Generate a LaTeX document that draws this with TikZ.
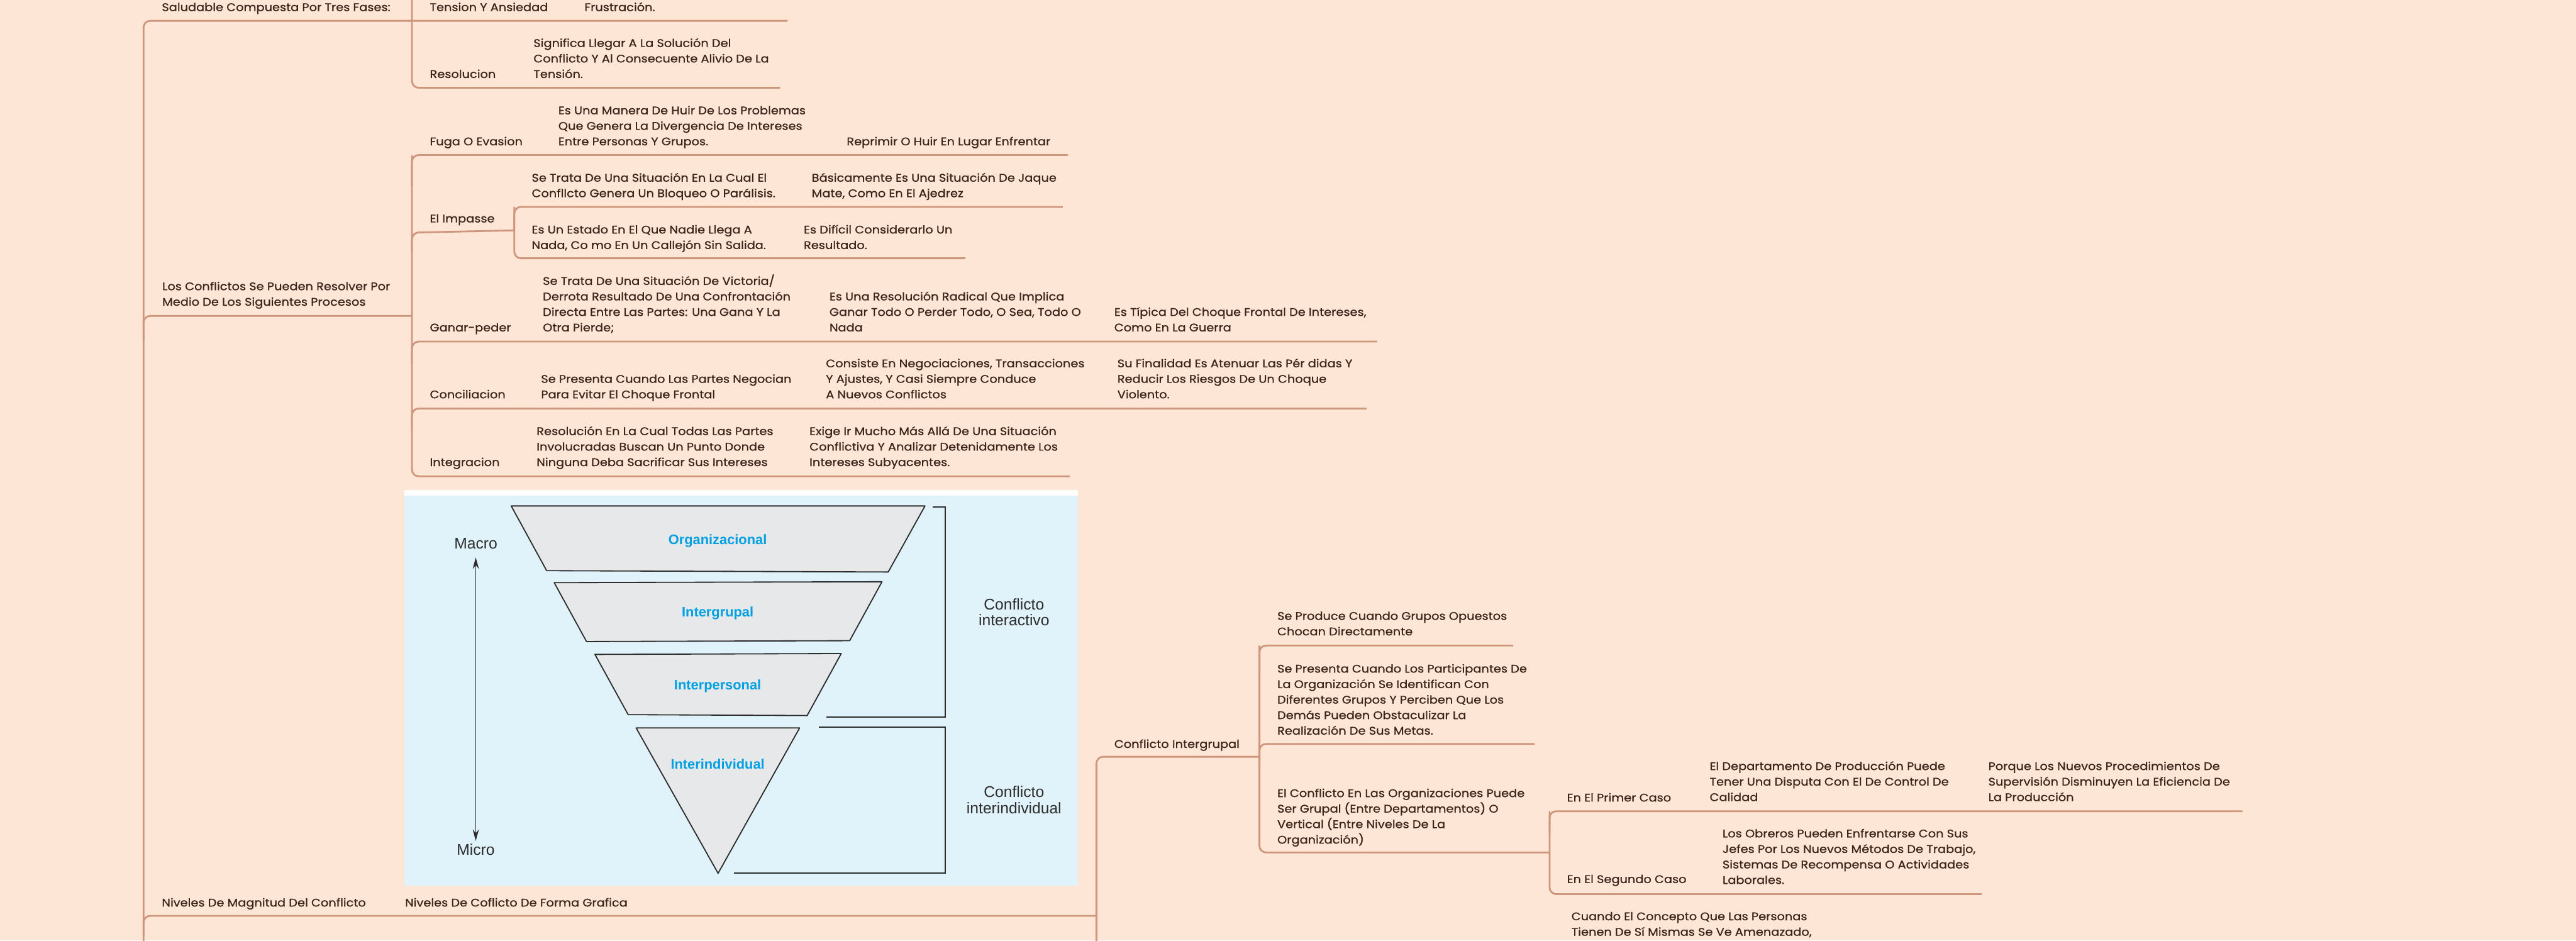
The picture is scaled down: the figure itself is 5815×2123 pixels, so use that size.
\documentclass[tikz,border=0pt]{standalone}
\usepackage{fontspec}
\setmainfont{Poppins}[FakeStretch=1.1,FakeBold=1.0]
\newfontfamily\panelfont{Liberation Sans}
\usetikzlibrary{arrows.meta}
\definecolor{bgc}{RGB}{254,230,214}
\definecolor{linec}{RGB}{206,150,124}
\definecolor{txtc}{RGB}{60,36,26}
\definecolor{panelc}{RGB}{224,243,251}
\definecolor{shapec}{RGB}{231,232,234}
\definecolor{labc}{RGB}{0,160,227}
\definecolor{darkc}{RGB}{45,45,45}
\newcommand\mainsz{\fontsize{12.5}{17.5}\selectfont}
\newcommand\mlines[1]{\vtop{\baselineskip=17.5pt\halign{##\hfil\cr#1\crcr}}}
\begin{document}
\begin{tikzpicture}[x=0.5pt,y=-0.5pt,
  tx/.style={anchor=base west, inner sep=0pt, font=\mainsz, text=txtc},
  br/.style={draw=linec, line width=2pt, rounded corners=7.5pt},
  shp/.style={draw=darkc, fill=shapec, line width=1.3pt, line join=round},
  lab/.style={anchor=base, inner sep=0pt, text=labc, font=\panelfont\bfseries\fontsize{15.5}{18}\selectfont},
  ptx/.style={anchor=base, inner sep=0pt, text=darkc, align=center, font=\panelfont\fontsize{17.5}{18}\selectfont},
  brk/.style={draw=darkc, line width=1.3pt}]
\useasboundingbox (0,0) rectangle (5815,2123);
\fill[bgc] (0,0) rectangle (5815,2123);
\clip (0,0) rectangle (5815,2123);

% ---------- connectors ----------
\coordinate (trT) at (324,47);
\coordinate (trB) at (324,2170);
\coordinate (e1) at (1778,47);
\draw[br] (e1) -- (trT) -- (trB);

\coordinate (vaT) at (930,-40);
\coordinate (vaB) at (930,198);
\coordinate (e2) at (1761,198);
\draw[br] (vaT) -- (vaB) -- (e2);

\coordinate (c3a) at (324,770);
\coordinate (c3b) at (324,713);
\coordinate (c3e) at (930,713);
\draw[br] (c3a) -- (c3b) -- (c3e);

\coordinate (vbT) at (930,350);
\coordinate (vbS) at (930,420);
\coordinate (vbB) at (930,1075);
\coordinate (e4) at (2411,350);
\coordinate (e8) at (2415,1075);
\draw[br] (vbS) -- (vbT) -- (e4);
\draw[br] (vbT) -- (vbB) -- (e8);

\coordinate (c5a) at (930,570);
\coordinate (c5b) at (930,525);
\coordinate (vcT) at (1161,467);
\coordinate (vcS) at (1161,520);
\coordinate (vcB) at (1161,583);
\coordinate (e5a) at (2399,467);
\coordinate (e5b) at (2179,583);
\draw[br] (c5a) -- (c5b) -- (vcS);
\draw[br] (vcS) -- (vcT) -- (e5a);
\draw[br] (vcT) -- (vcB) -- (e5b);

\coordinate (c6a) at (930,820);
\coordinate (c6b) at (930,771);
\coordinate (e6) at (3109,771);
\draw[br] (c6a) -- (c6b) -- (e6);

\coordinate (c7a) at (930,970);
\coordinate (c7b) at (930,922);
\coordinate (e7) at (3085,922);
\draw[br] (c7a) -- (c7b) -- (e7);

\coordinate (c9a) at (324,2110);
\coordinate (c9b) at (324,2067);
\coordinate (vdX) at (2475,2067);
\draw[br] (c9a) -- (c9b) -- (vdX);

\coordinate (vdB) at (2475,2170);
\coordinate (vdT) at (2475,1708);
\coordinate (veM) at (2843,1708);
\draw[br] (vdB) -- (vdT) -- (veM);

\coordinate (veT) at (2843,1457);
\coordinate (veS) at (2843,1520);
\coordinate (veB) at (2843,1924);
\coordinate (e10) at (3416,1457);
\draw[br] (veS) -- (veT) -- (e10);
\coordinate (c11a) at (2843,1725);
\coordinate (c11b) at (2843,1679);
\coordinate (e11) at (3464,1679);
\draw[br] (c11a) -- (c11b) -- (e11);
\coordinate (vfM) at (3498,1924);
\draw[br] (veT) -- (veB) -- (vfM);

\coordinate (vfT) at (3498,1831);
\coordinate (vfS) at (3498,1880);
\coordinate (vfB) at (3498,2018);
\coordinate (e13) at (5062,1831);
\coordinate (e14) at (4473,2018);
\draw[br] (vfS) -- (vfT) -- (e13);
\draw[br] (vfT) -- (vfB) -- (e14);

% ---------- top texts ----------
\node[tx] (t1) at (365,25) {Saludable Compuesta Por Tres Fases:};
\node[tx] (t2) at (970,25) {Tension Y Ansiedad};
\node[tx] (t3) at (1319,25) {Frustración.};
\node[tx] (t4) at (970,176) {Resolucion};
\node[tx] (t5) at (1204,106) {\mlines{Significa Llegar A La Solución Del\cr Conflicto Y Al Consecuente Alivio De La\cr Tensión.}};

% ---------- processes ----------
\node[tx] (p0) at (366,655) {\mlines{Los Conflictos Se Pueden Resolver Por\cr Medio De Los Siguientes Procesos}};
\node[tx] (p1) at (970,328) {Fuga O Evasion};
\node[tx] (p1a) at (1260,258) {\mlines{Es Una Manera De Huir De Los Problemas\cr Que Genera La Divergencia De Intereses\cr Entre Personas Y Grupos.}};
\node[tx] (p1b) at (1911,328) {Reprimir O Huir En Lugar Enfrentar};
\node[tx] (p2) at (970,502) {El Impasse};
\node[tx] (p2a) at (1200,410) {\mlines{Se Trata De Una Situación En La Cual El\cr Confllcto Genera Un Bloqueo O Parálisis.}};
\node[tx] (p2b) at (1832,410) {\mlines{Básicamente Es Una Situación De Jaque\cr Mate, Como En El Ajedrez}};
\node[tx] (p2c) at (1200,527) {\mlines{Es Un Estado En El Que Nadie Llega A\cr Nada, Co mo En Un Callejón Sin Salida.}};
\node[tx] (p2d) at (1814,527) {\mlines{Es Difícil Considerarlo Un\cr Resultado.}};
\node[tx] (p3) at (970,748) {Ganar-peder};
\node[tx] (p3a) at (1225,643) {\mlines{Se Trata De Una Situación De Victoria/\cr Derrota Resultado De Una Confrontación\cr Directa Entre Las Partes: Una Gana Y La\cr Otra Pierde;}};
\node[tx] (p3b) at (1872,678) {\mlines{Es Una Resolución Radical Que Implica\cr Ganar Todo O Perder Todo, O Sea, Todo O\cr Nada}};
\node[tx] (p3c) at (2515,713) {\mlines{Es Típica Del Choque Frontal De Intereses,\cr Como En La Guerra}};
\node[tx] (p4) at (970,899) {Conciliacion};
\node[tx] (p4a) at (1221,864) {\mlines{Se Presenta Cuando Las Partes Negocian\cr Para Evitar El Choque Frontal}};
\node[tx] (p4b) at (1864,829) {\mlines{Consiste En Negociaciones, Transacciones\cr Y Ajustes, Y Casi Siempre Conduce\cr A Nuevos Conflictos}};
\node[tx] (p4c) at (2522,829) {\mlines{Su Finalidad Es Atenuar Las Pér didas Y\cr Reducir Los Riesgos De Un Choque\cr Violento.}};
\node[tx] (p5) at (970,1052) {Integracion};
\node[tx] (p5a) at (1211,982) {\mlines{Resolución En La Cual Todas Las Partes\cr Involucradas Buscan Un Punto Donde\cr Ninguna Deba Sacrificar Sus Intereses}};
\node[tx] (p5b) at (1827,982) {\mlines{Exige Ir Mucho Más Allá De Una Situación\cr Conflictiva Y Analizar Detenidamente Los\cr Intereses Subyacentes.}};

% ---------- panel ----------
\fill[white] (913,1106) rectangle (2433,1118);
\fill[panelc] (913,1118) rectangle (2433,1999);
\draw[shp] (1154,1142) -- (2088,1142) -- (2005,1291) -- (1234,1288) -- cycle;
\draw[shp] (1251,1315) -- (1991,1313) -- (1918,1446) -- (1324,1448) -- cycle;
\draw[shp] (1343,1477) -- (1899,1475) -- (1822,1615) -- (1418,1613) -- cycle;
\draw[shp] (1436,1643) -- (1805,1643) -- (1621,1971) -- cycle;
\node[lab] (g1) at (1620,1229) {Organizacional};
\node[lab] (g2) at (1620,1392) {Intergrupal};
\node[lab] (g3) at (1620,1557) {Interpersonal};
\node[lab] (g4) at (1620,1736) {Interindividual};
\draw[brk] (2105,1144) -- (2134,1144) -- (2134,1619) -- (1866,1619);
\draw[brk] (1848,1641) -- (2134,1641) -- (2134,1970) -- (1657,1970);
\node[ptx] (k1) at (2289,1412) {Conflicto\\interactivo};
\node[ptx] (k2) at (2289,1836) {Conflicto\\interindividual};
\node[ptx] (mac) at (1074,1239) {Macro};
\node[ptx] (mic) at (1074,1930) {Micro};
\coordinate (arT) at (1074,1258);
\coordinate (arB) at (1074,1898);
\draw[darkc, line width=1pt, {Stealth[length=13pt,width=7pt]}-{Stealth[length=13pt,width=7pt]}] (arT) -- (arB);

% ---------- bottom texts ----------
\node[tx] (b1) at (365,2046) {Niveles De Magnitud Del Conflicto};
\node[tx] (b2) at (914,2046) {Niveles De Coflicto De Forma Grafica};
\node[tx] (b3) at (2515,1688) {Conflicto Intergrupal};
\node[tx] (b4) at (2883,1399) {\mlines{Se Produce Cuando Grupos Opuestos\cr Chocan Directamente}};
\node[tx] (b5) at (2883,1518) {\mlines{Se Presenta Cuando Los Participantes De\cr La Organización Se Identifican Con\cr Diferentes Grupos Y Perciben Que Los\cr Demás Pueden Obstaculizar La\cr Realización De Sus Metas.}};
\node[tx] (b6) at (2883,1799) {\mlines{El Conflicto En Las Organizaciones Puede\cr Ser Grupal (Entre Departamentos) O\cr Vertical (Entre Niveles De La\cr Organización)}};
\node[tx] (b7) at (3537,1809) {En El Primer Caso};
\node[tx] (b8) at (3537,1993) {En El Segundo Caso};
\node[tx] (b9) at (3859,1738) {\mlines{El Departamento De Producción Puede\cr Tener Una Disputa Con El De Control De\cr Calidad}};
\node[tx] (b10) at (4488,1738) {\mlines{Porque Los Nuevos Procedimientos De\cr Supervisión Disminuyen La Eficiencia De\cr La Producción}};
\node[tx] (b11) at (3888,1890) {\mlines{Los Obreros Pueden Enfrentarse Con Sus\cr Jefes Por Los Nuevos Métodos De Trabajo,\cr Sistemas De Recompensa O Actividades\cr Laborales.}};
\node[tx] (b12) at (3547,2077) {\mlines{Cuando El Concepto Que Las Personas\cr Tienen De Sí Mismas Se Ve Amenazado,}};
\end{tikzpicture}
\end{document}
